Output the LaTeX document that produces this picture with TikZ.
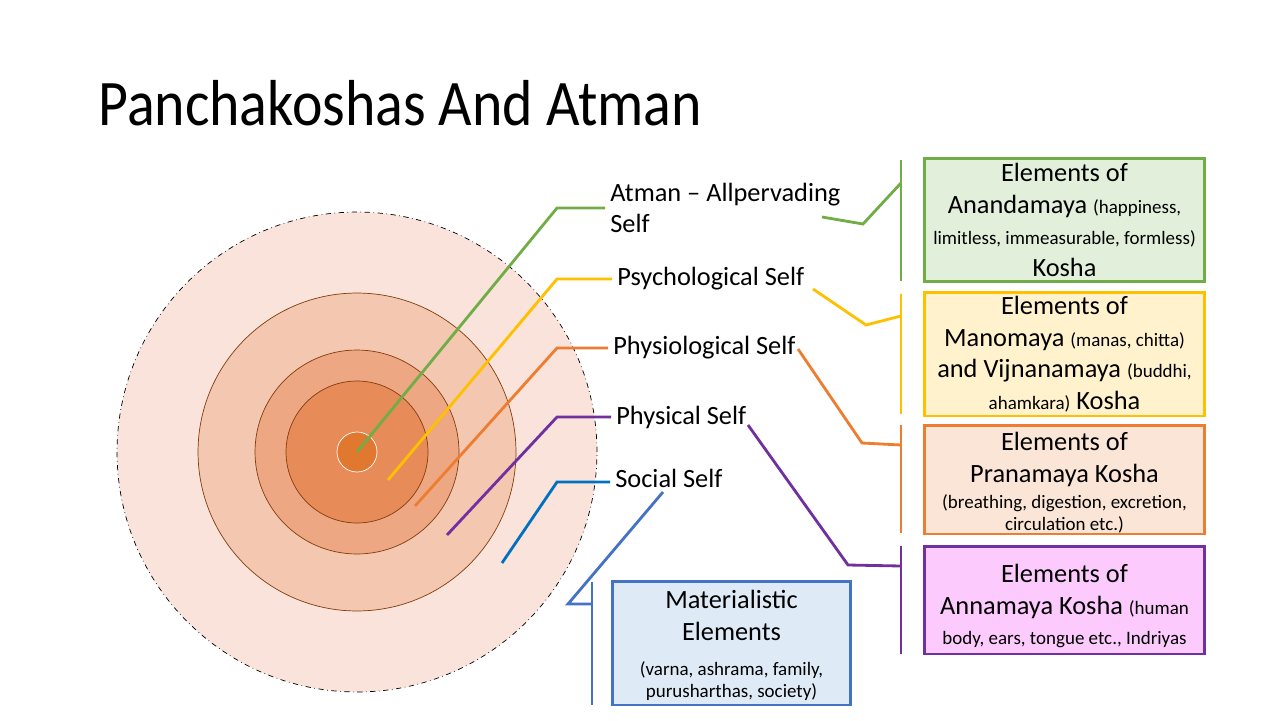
\documentclass[tikz,border=0pt]{standalone}
\usepackage{fontspec}
\setmainfont{Carlito}
\newfontfamily\titlefont[FakeStretch=0.89]{Carlito}
\usetikzlibrary{positioning}

\definecolor{atman_green}{HTML}{70AD47}
\definecolor{psycho_yellow}{HTML}{FFC000}
\definecolor{physio_orange}{HTML}{ED7D31}
\definecolor{physical_purple}{HTML}{7030A0}
\definecolor{social_blue}{HTML}{0070C0}
\definecolor{material_blue}{HTML}{4472C4}
\definecolor{ring_line}{HTML}{843C0C}

\newcommand{\minortext}{\fontsize{10.8}{18}\selectfont}

\begin{document}
\begin{tikzpicture}[x=0.02cm, y=-0.02cm,
    every node/.style={
        inner sep=0pt,
        font=\fontsize{15}{18}\selectfont
    },
    self_label/.style={anchor=west, align=left, inner sep=0.1cm},
    kosha_box/.style={
        rectangle,
        draw,
        line width=1.7pt,
        align=center,
        minimum width=5.62cm,
        minimum height=2.48cm
    },
    leader/.style={line width=1.6pt}
]

\useasboundingbox (0,0) rectangle (1280,720);

\node (title) [anchor=base west, font=\titlefont\fontsize{37}{44}\selectfont] at (98,125)
{
    Panchakoshas And Atman
};

% the five sheaths
\coordinate (core) at (357,452);
\draw[black, dash dot, thin, fill={rgb,255:red,249;green,227;blue,219}] (core) circle[radius=4.8cm];
\draw[ring_line, thin, fill={rgb,255:red,244;green,199;blue,177}] (core) circle[radius=3.18cm];
\draw[ring_line, thin, fill={rgb,255:red,237;green,167;blue,131}] (core) circle[radius=2.04cm];
\draw[ring_line, thin, fill={rgb,255:red,231;green,139;blue,89}] (core) circle[radius=1.42cm];
\draw[white, thin, fill={rgb,255:red,224;green,120;blue,48}] (core) circle[radius=0.4cm];



\node (atman_label) [self_label] at (605,208)
{
    Atman -- Allpervading\\Self
};

\node (psychological_label) [self_label] at (612,279)
{
    Psychological Self
};

\node (physiological_label) [self_label] at (608,348)
{
    Physiological Self
};

\node (physical_label) [self_label] at (611,417)
{
    Physical Self
};

\node (social_label) [self_label] at (610,478)
{
    Social Self
};



\node (anandamaya_box) [kosha_box, draw=atman_green, fill={rgb,255:red,226;green,239;blue,218}] at (1064.5,220)
{
    Elements of\\
    Anandamaya {\minortext (happiness,}\\
    {\minortext limitless, immeasurable, formless)}\\
    Kosha
};

\node (manomaya_box) [kosha_box, draw=psycho_yellow, fill={rgb,255:red,255;green,242;blue,204}] at (1064.5,354)
{
    Elements of\\
    Manomaya {\minortext (manas, chitta)}\\
    and Vijnanamaya {\minortext (buddhi,}\\
    {\minortext ahamkara)} Kosha
};

\node (pranamaya_box) [kosha_box, minimum height=2.18cm, draw=physio_orange, fill={rgb,255:red,251;green,229;blue,214}] at (1064.5,479.5)
{
    \rule{0pt}{14.5pt}Elements of\\
    Pranamaya Kosha\\[-3pt]
    {\minortext (breathing, digestion, excretion,}\\[-5.5pt]
    {\minortext circulation etc.)}
};

\node (annamaya_box) [kosha_box, minimum height=2.16cm, draw=physical_purple, fill={rgb,255:red,253;green,202;blue,253}] at (1064.5,600)
{
    \rule{0pt}{17pt}Elements of\\
    Annamaya Kosha {\minortext (human}\\[-1pt]
    {\minortext body, ears, tongue etc., Indriyas}
};

\node (materialistic_box) [kosha_box, minimum width=4.78cm, draw=material_blue, fill={rgb,255:red,222;green,235;blue,247}] at (731.5,643)
{
    \rule{0pt}{13pt}Materialistic\\
    Elements\\[2pt]
    {\minortext (varna, ashrama, family,}\\[-5.5pt]
    {\minortext purusharthas, society)}
};



% leaders from the rings to the labels
\coordinate (atman_tip) at (357,452);
\coordinate (atman_bend) at (557,208);
\coordinate (psychological_tip) at (388,480);
\coordinate (psychological_bend) at (557,279);
\coordinate (physiological_tip) at (415,506);
\coordinate (physiological_bend) at (557,348);
\coordinate (physical_tip) at (447,535);
\coordinate (physical_bend) at (557,417);
\coordinate (social_tip) at (502,563);
\coordinate (social_bend) at (557,482);

\draw[leader, atman_green] (atman_tip) -- (atman_bend) -- (atman_label.west);
\draw[leader, psycho_yellow] (psychological_tip) -- (psychological_bend) -- (psychological_label.west);
\draw[leader, physio_orange] (physiological_tip) -- (physiological_bend) -- (physiological_label.west);
\draw[leader, physical_purple] (physical_tip) -- (physical_bend) -- (physical_label.west);
\draw[leader, social_blue] (social_tip) -- (social_bend) -- (social_bend -| social_label.west);



% brackets in front of the boxes
\coordinate (anandamaya_bar_top) at (901,160);
\coordinate (anandamaya_bar_bottom) at (901,281);
\coordinate (anandamaya_bar_mid) at (901,183);
\coordinate (manomaya_bar_top) at (901,294);
\coordinate (manomaya_bar_bottom) at (901,414);
\coordinate (manomaya_bar_mid) at (901,316);
\coordinate (pranamaya_bar_top) at (901,425);
\coordinate (pranamaya_bar_bottom) at (901,533);
\coordinate (pranamaya_bar_mid) at (901,445);
\coordinate (annamaya_bar_top) at (901,546);
\coordinate (annamaya_bar_bottom) at (901,654);
\coordinate (annamaya_bar_mid) at (901,566);
\coordinate (materialistic_bar_top) at (592,582);
\coordinate (materialistic_bar_bottom) at (592,705);
\coordinate (materialistic_bar_mid) at (592,604);

\draw[leader, atman_green] (anandamaya_bar_top) -- (anandamaya_bar_bottom);
\draw[leader, psycho_yellow] (manomaya_bar_top) -- (manomaya_bar_bottom);
\draw[leader, physio_orange] (pranamaya_bar_top) -- (pranamaya_bar_bottom);
\draw[leader, physical_purple] (annamaya_bar_top) -- (annamaya_bar_bottom);
\draw[leader, material_blue] (materialistic_bar_top) -- (materialistic_bar_bottom);

\coordinate (atman_out) at (822,217);
\coordinate (atman_knee) at (863,224);
\coordinate (psychological_out) at (813,289);
\coordinate (psychological_knee) at (866,325);
\coordinate (physiological_out) at (798,349);
\coordinate (physiological_knee) at (862,443);
\coordinate (physical_out) at (748,425);
\coordinate (physical_knee) at (848,565);
\coordinate (social_out) at (663,492);
\coordinate (social_knee) at (568,604);

\draw[leader, atman_green] (atman_out) -- (atman_knee) -- (anandamaya_bar_mid);
\draw[leader, psycho_yellow] (psychological_out) -- (psychological_knee) -- (manomaya_bar_mid);
\draw[leader, physio_orange] (physiological_out) -- (physiological_knee) -- (pranamaya_bar_mid);
\draw[leader, physical_purple] (physical_out) -- (physical_knee) -- (annamaya_bar_mid);
\draw[leader, material_blue] (social_out) -- (social_knee) -- (materialistic_bar_mid);


\end{tikzpicture}
\end{document}
